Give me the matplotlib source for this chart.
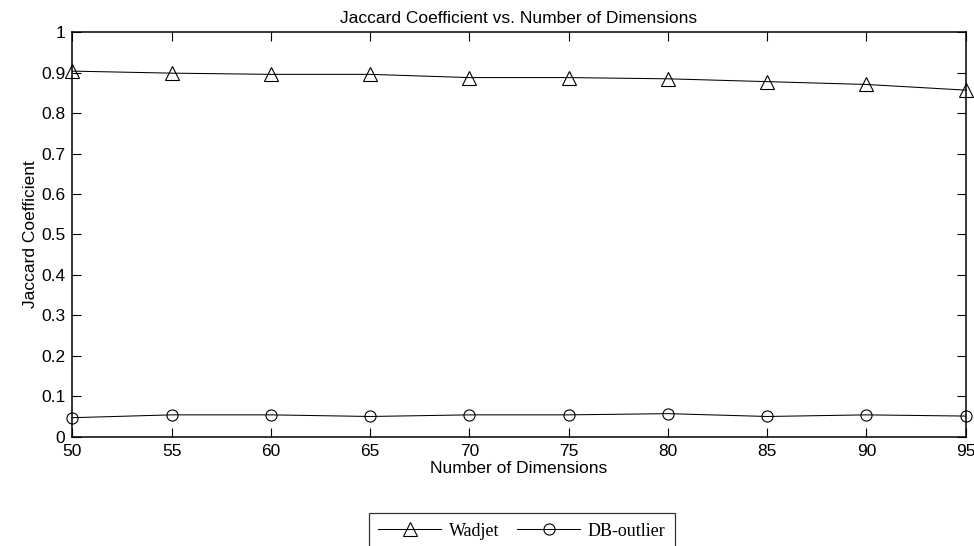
import matplotlib
matplotlib.use("Agg")
import matplotlib.pyplot as plt

dims = [50, 55, 60, 65, 70, 75, 80, 85, 90, 95]
wadjet = [0.904, 0.899, 0.896, 0.896, 0.888, 0.888, 0.885, 0.878, 0.871, 0.857]
db_outlier = [0.047, 0.054, 0.054, 0.050, 0.054, 0.054, 0.057, 0.050, 0.054, 0.051]
xticks = [50, 55, 60, 65, 70, 75, 80, 85, 90, 95]
yticks = [0, 0.1, 0.2, 0.3, 0.4, 0.5, 0.6, 0.7, 0.8, 0.9, 1]
ytick_labels = ["0", "0.1", "0.2", "0.3", "0.4", "0.5", "0.6", "0.7", "0.8", "0.9", "1"]

plt.rcParams['font.family'] = ['Liberation Sans', 'DejaVu Sans']
fs = 12.5

fig = plt.figure(figsize=(9.74, 5.46), dpi=100)
W, H = 974, 546
left, right, top, bottom = 72.3, 965.7, 32.3, 436.7
ax = fig.add_axes([left / W, (H - bottom) / H, (right - left) / W, (bottom - top) / H])

l1, = ax.plot(dims, wadjet, color='black', lw=0.75, marker='^', markersize=10,
              markerfacecolor='none', markeredgecolor='black', markeredgewidth=0.8,
              clip_on=False, label='Wadjet')
l2, = ax.plot(dims, db_outlier, color='black', lw=0.75, marker='o', markersize=8,
              markerfacecolor='none', markeredgecolor='black', markeredgewidth=0.8,
              clip_on=False, label='DB-outlier')

ax.set_xlim(50, 95)
ax.set_ylim(0, 1)
ax.set_xticks(xticks)
ax.set_xticklabels([str(v) for v in xticks], fontsize=fs)
ax.set_yticks(yticks)
ax.set_yticklabels(ytick_labels, fontsize=fs)
ax.tick_params(direction='in', length=6.5, width=0.8, top=True, right=True, pad=5)
for s in ax.spines.values():
    s.set_linewidth(1.1)

ax.set_xlabel('Number of Dimensions', fontsize=fs, labelpad=2)
ax.set_ylabel('Jaccard Coefficient', fontsize=fs, labelpad=2)
ax.set_title('Jaccard Coefficient vs. Number of Dimensions', fontsize=fs, pad=6.5)

leg = fig.legend(handles=[l1, l2], loc='center', bbox_to_anchor=(522 / W, (H - 531) / H),
                 ncol=2, frameon=True, fancybox=False, edgecolor='black',
                 prop={'family': 'Liberation Serif', 'size': 13},
                 handlelength=3.45, handletextpad=0.45, columnspacing=1.0,
                 borderpad=0.5, borderaxespad=0)
leg.get_frame().set_linewidth(0.9)

fig.savefig('out.png', dpi=100)
